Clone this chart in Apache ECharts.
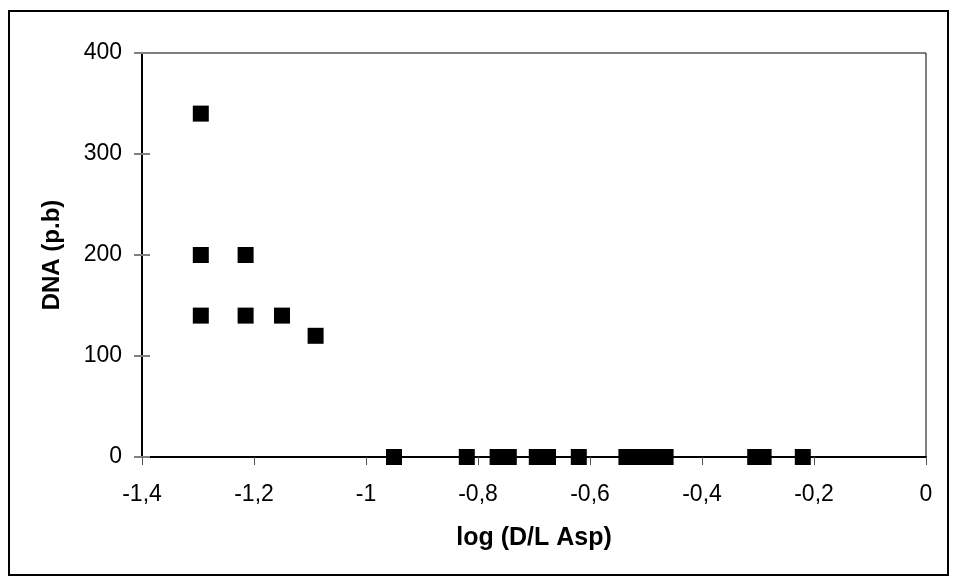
<!DOCTYPE html>
<html>
<head>
<meta charset="utf-8">
<script src="https://cdn.jsdelivr.net/npm/echarts@6/dist/echarts.min.js"></script>
<style>
  html, body { margin: 0; padding: 0; background: #fff; }
  #chart { width: 956px; height: 581px; }
</style>
</head>
<body>
<div id="chart"></div>
<script>
// log (D/L Asp) values and DNA (p.b)
var logDL = [-1.295, -1.295, -1.215, -1.295, -1.215, -1.15, -1.09,
             -0.95, -0.82, -0.765, -0.745, -0.695, -0.675, -0.62,
             -0.535, -0.51, -0.49, -0.465, -0.305, -0.29, -0.22];
var dna   = [340, 200, 200, 140, 140, 140, 120,
             0, 0, 0, 0, 0, 0, 0,
             0, 0, 0, 0, 0, 0, 0];
var xTicks = { min: -1.4, max: 0, step: 0.2 };
var yTicks = { min: 0, max: 400, step: 100 };

var points = [];
for (var i = 0; i < logDL.length; i++) {
    points.push([logDL[i], dna[i]]);
}

var font = 'Liberation Sans, Arial, sans-serif';
var box = { left: 142, right: 30, top: 53, bottom: 124 };

var option = {
    animation: false,
    backgroundColor: '#fff',
    graphic: [{
        type: 'rect',
        shape: { x: 9, y: 11, width: 939, height: 564 },
        style: { fill: 'none', stroke: '#000', lineWidth: 2 }
    }],
    grid: [{
        left: box.left, right: box.right, top: box.top, bottom: box.bottom,
        show: true,
        borderColor: '#000',
        borderWidth: 1
    }, {
        // second grid on top only for the inner half of the y ticks
        left: box.left, right: box.right, top: box.top, bottom: box.bottom
    }],
    xAxis: [{
        type: 'value',
        min: xTicks.min, max: xTicks.max, interval: xTicks.step,
        name: 'log (D/L Asp)',
        nameLocation: 'middle',
        nameGap: 69,
        nameTextStyle: { fontFamily: font, fontSize: 25, fontWeight: 'bold', color: '#000' },
        axisLine: { onZero: false, lineStyle: { color: '#000', width: 2 } },
        axisTick: { show: true, length: 8, lineStyle: { color: '#555', width: 1 } },
        axisLabel: {
            margin: 26,
            fontFamily: font, fontSize: 23, color: '#000',
            formatter: function (v) {
                return String(Math.round(v * 10) / 10).replace('.', ',');
            }
        },
        splitLine: { show: false }
    }, {
        gridIndex: 1,
        type: 'value',
        min: xTicks.min, max: xTicks.max, interval: xTicks.step,
        show: false
    }],
    yAxis: [{
        type: 'value',
        min: yTicks.min, max: yTicks.max, interval: yTicks.step,
        name: 'DNA (p.b)',
        nameLocation: 'middle',
        nameGap: 78,
        nameTextStyle: { fontFamily: font, fontSize: 24, fontWeight: 'bold', color: '#000' },
        axisLine: { show: true, onZero: false, lineStyle: { color: '#000', width: 2 } },
        axisTick: { show: true, length: 8, lineStyle: { color: '#808080', width: 2 } },
        axisLabel: { margin: 20, fontFamily: font, fontSize: 23, color: '#000' },
        splitLine: { show: false }
    }, {
        gridIndex: 1,
        type: 'value',
        position: 'left',
        min: yTicks.min, max: yTicks.max, interval: yTicks.step,
        axisLine: { show: false, onZero: false },
        axisTick: { show: true, inside: true, length: 8, lineStyle: { color: '#808080', width: 2 } },
        axisLabel: { show: false },
        splitLine: { show: false }
    }],
    series: [{
        type: 'scatter',
        xAxisIndex: 0,
        yAxisIndex: 0,
        symbol: 'rect',
        symbolSize: 16,
        itemStyle: { color: '#000', opacity: 1 },
        data: points
    }]
};

var myChart = echarts.init(document.getElementById('chart'));
myChart.setOption(option);
</script>
</body>
</html>
